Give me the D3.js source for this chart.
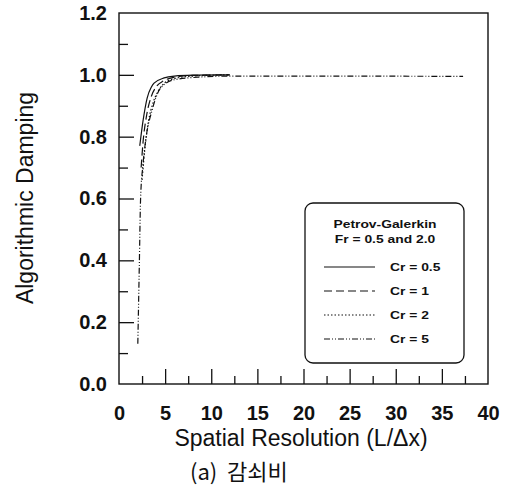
<!DOCTYPE html>
<html>
<head>
<meta charset="utf-8">
<script src="https://cdn.jsdelivr.net/npm/d3@7"></script>
<style>
  body { margin: 0; background: #fff; }
  svg { display: block; font-family: "Liberation Sans", Arial, sans-serif; }
</style>
</head>
<body>
<div id="chart"></div>
<script>
// data
var crLabels = ["Cr = 0.5", "Cr = 1", "Cr = 2", "Cr = 5"];
var cr05 = [[2.25,0.77],[2.6,0.85],[3.05,0.925],[3.5,0.96],[3.8,0.973],[4.9,0.99],[6,0.996],[8,0.999],[12,1.0]];
var cr1  = [[2.4,0.70],[2.6,0.78],[3.0,0.87],[3.5,0.93],[4.0,0.96],[4.8,0.98],[6,0.992],[8,0.998],[12,1.0]];
var cr2  = [[2.5,0.66],[2.8,0.76],[3.2,0.85],[3.7,0.91],[4.3,0.95],[5,0.975],[6,0.988],[8,0.996],[12,1.0]];
var cr5  = [[2.04,0.13],[2.2,0.38],[2.34,0.6],[2.6,0.71],[2.9,0.79],[3.6,0.887],[4.5,0.957],[6,0.984],[8.9,0.993],[12,0.996],[20,0.996],[37.3,0.995]];
var xTickLabels = [0,5,10,15,20,25,30,35,40];
var xMajor = [5,10,15,20,25,30,35];
var xMinor = [2.5,7.5,12.5,17.5,22.5,27.5,32.5,37.5];
var yTickLabels = [0,0.2,0.4,0.6,0.8,1.0,1.2];
var yMajor = [0.2,0.4,0.6,0.8,1.0];
var yMinor = [0.1,0.3,0.5,0.7,0.9,1.1];

var series = [cr05, cr1, cr2, cr5];
var dashes = [null, "8,4", "1.5,2", "6,2,1,2,1,2"];

var W = 505, H = 492;
var svg = d3.select("#chart").append("svg")
  .attr("width", W).attr("height", H);

var x = d3.scaleLinear().domain([0, 40]).range([119, 488]);
var y = d3.scaleLinear().domain([0, 1.2]).range([384, 13]);

// frame
svg.append("rect")
  .attr("x", x(0)).attr("y", y(1.2))
  .attr("width", x(40) - x(0)).attr("height", y(0) - y(1.2))
  .attr("fill", "none").attr("stroke", "#111").attr("stroke-width", 1.4);

function cleanAxis(g) {
  g.select(".domain").remove();
  g.selectAll("line").attr("stroke", "#111").attr("stroke-width", 1.3);
}

// x ticks (inward) and labels
svg.append("g").attr("transform", "translate(0," + y(0) + ")")
  .call(d3.axisBottom(x).tickValues(xMajor).tickSize(-15).tickFormat(""))
  .call(cleanAxis);
svg.append("g").attr("transform", "translate(0," + y(0) + ")")
  .call(d3.axisBottom(x).tickValues(xMinor).tickSize(-8).tickFormat(""))
  .call(cleanAxis);
svg.append("g").attr("transform", "translate(0," + y(0) + ")")
  .call(d3.axisBottom(x).tickValues(xTickLabels).tickSize(0).tickPadding(22)
    .tickFormat(d3.format("d")))
  .call(cleanAxis)
  .selectAll("text")
    .attr("font-size", 20).attr("font-weight", "bold").attr("fill", "#111")
    .attr("font-family", "Liberation Sans, Arial, sans-serif");

// y ticks (inward) and labels
svg.append("g").attr("transform", "translate(" + x(0) + ",0)")
  .call(d3.axisLeft(y).tickValues(yMajor).tickSize(-15).tickFormat(""))
  .call(cleanAxis);
svg.append("g").attr("transform", "translate(" + x(0) + ",0)")
  .call(d3.axisLeft(y).tickValues(yMinor).tickSize(-9).tickFormat(""))
  .call(cleanAxis);
svg.append("g").attr("transform", "translate(" + x(0) + ",0)")
  .call(d3.axisLeft(y).tickValues(yTickLabels).tickSize(0).tickPadding(12)
    .tickFormat(d3.format(".1f")))
  .call(cleanAxis)
  .selectAll("text")
    .attr("font-size", 20).attr("font-weight", "bold").attr("fill", "#111")
    .attr("font-family", "Liberation Sans, Arial, sans-serif");

// curves
var line = d3.line()
  .x(function(d) { return x(d[0]); })
  .y(function(d) { return y(d[1]); })
  .curve(d3.curveMonotoneX);

series.forEach(function(s, i) {
  svg.append("path")
    .datum(s)
    .attr("d", line)
    .attr("fill", "none")
    .attr("stroke", "#111")
    .attr("stroke-width", 1.2)
    .attr("stroke-dasharray", dashes[i]);
});

// axis titles
svg.append("text")
  .attr("x", 301).attr("y", 446)
  .attr("text-anchor", "middle")
  .attr("font-size", 23).attr("fill", "#111")
  .text("Spatial Resolution (L/\u0394x)");

svg.append("text")
  .attr("transform", "translate(33,198) rotate(-90)")
  .attr("text-anchor", "middle")
  .attr("font-size", 23).attr("fill", "#111")
  .text("Algorithmic Damping");

svg.append("text")
  .attr("x", 190).attr("y", 480)
  .attr("font-size", 22).attr("fill", "#111")
  .attr("font-family", "Noto Sans CJK KR, sans-serif")
  .text("(a)\u00A0\u00A0\uAC10\uC1E0\uBE44");

// legend
var leg = svg.append("g");
leg.append("rect")
  .attr("x", 305).attr("y", 203).attr("width", 159).attr("height", 160)
  .attr("rx", 8).attr("ry", 8)
  .attr("fill", "#fff").attr("stroke", "#111").attr("stroke-width", 1.3);

// the scanned legend text is wider than it is tall
function wideText(g, tx, ty, str, anchor) {
  g.append("text")
    .attr("transform", "translate(" + tx + "," + ty + ") scale(1.32,1)")
    .attr("text-anchor", anchor)
    .attr("font-size", 10.5).attr("font-weight", "bold").attr("fill", "#111")
    .text(str);
}
wideText(leg, 385, 228, "Petrov-Galerkin", "middle");
wideText(leg, 385, 243, "Fr = 0.5 and 2.0", "middle");

crLabels.forEach(function(lab, i) {
  var ly = 267 + i * 24;
  leg.append("line")
    .attr("x1", 324).attr("x2", 375).attr("y1", ly).attr("y2", ly)
    .attr("stroke", "#111").attr("stroke-width", 1.2)
    .attr("stroke-dasharray", dashes[i]);
  wideText(leg, 390, ly + 4, lab, "start");
});
</script>
</body>
</html>
